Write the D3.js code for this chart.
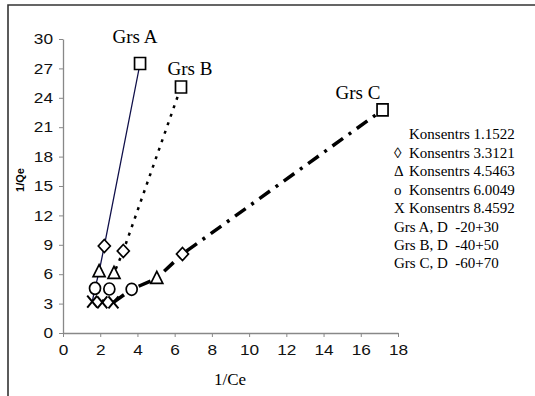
<!DOCTYPE html>
<html><head><meta charset="utf-8">
<script src="https://cdn.jsdelivr.net/npm/d3@7"></script>
<style>body{margin:0;background:#fff}svg{display:block}</style>
</head><body><svg id="c" width="535" height="396"></svg>
<script>
// data: points ordered X, circle, triangle, diamond, square
const markerTypes = ["x","circle","triangle","diamond","square"];
const grsA_x = [1.57, 1.72, 1.94, 2.22, 4.14];
const grsA_y = [3.2, 4.56, 6.26, 8.88, 27.5];
const grsB_x = [2.11, 2.49, 2.74, 3.24, 6.34];
const grsB_y = [3.13, 4.49, 6.09, 8.37, 25.1];
const grsC_x = [2.71, 3.69, 5.04, 6.42, 17.17];
const grsC_y = [3.13, 4.46, 5.58, 8.06, 22.76];
const seriesNames = ["Grs A","Grs B","Grs C"];
const xTicks = [0,2,4,6,8,10,12,14,16,18];
const yTicks = [0,3,6,9,12,15,18,21,24,27,30];
const legendSymbols = ["","\u25CA","\u0394","o","X"];
const legendLabels = ["Konsentrs 1.1522","Konsentrs 3.3121","Konsentrs 4.5463","Konsentrs 6.0049","Konsentrs 8.4592"];
const legendNotes = ["Grs A, D  -20+30","Grs B, D  -40+50","Grs C, D  -60+70"];

const svg = d3.select("#c");
const x = d3.scaleLinear().domain([0,18]).range([63,398]);
const y = d3.scaleLinear().domain([0,30]).range([333,39]);

// frame
svg.append("path").attr("d","M8,396V5H535").attr("fill","none").attr("stroke","#333").attr("stroke-width",1.6);

// axes
const axisColor = "#888";
const gx = svg.append("g").attr("transform","translate(0,333)")
  .call(d3.axisBottom(x).tickValues(xTicks).tickSize(4).tickPadding(8).tickSizeOuter(0));
const gy = svg.append("g").attr("transform","translate(63,0)")
  .call(d3.axisLeft(y).tickValues(yTicks).tickSize(4).tickPadding(6).tickSizeOuter(0));
[gx,gy].forEach(g=>{
  g.select(".domain").attr("stroke",axisColor).attr("stroke-width",1.3);
  g.selectAll(".tick line").attr("stroke",axisColor);
  g.selectAll("text").attr("font-family","Liberation Sans, Arial, sans-serif").attr("font-size",14.5).attr("fill","#111")
    .attr("textLength",function(){return this.textContent.length*9.6;}).attr("lengthAdjust","spacingAndGlyphs");
});

svg.append("text").attr("x",230).attr("y",385).attr("text-anchor","middle")
  .attr("font-family","Liberation Serif, Times New Roman, serif").attr("font-size",17).text("1/Ce");
svg.append("text").attr("transform","translate(24,180) rotate(-90)").attr("text-anchor","middle")
  .attr("font-family","Liberation Sans, Arial, sans-serif").attr("font-size",11).attr("font-weight","bold").text("1/Qe");

const series = [
  {name:seriesNames[0], xs:grsA_x, ys:grsA_y, stroke:"#10104a", sw:1.3, dash:null},
  {name:seriesNames[1], xs:grsB_x, ys:grsB_y, stroke:"#000", sw:2.5, dash:"3,6"},
  {name:seriesNames[2], xs:grsC_x, ys:grsC_y, stroke:"#000", sw:3.5, dash:"13,7,3,7"}
];
const line = d3.line().x(d=>x(d[0])).y(d=>y(d[1]));
series.forEach(s=>{
  const pts = s.xs.map((v,i)=>[v,s.ys[i]]);
  svg.append("path").attr("d",line(pts)).attr("fill","none").attr("stroke",s.stroke)
    .attr("stroke-width",s.sw).attr("stroke-dasharray",s.dash);
});
function markerPath(t){
  switch(t){
    case "square": return "M-5.5,-6H5.5V6H-5.5Z";
    case "diamond": return "M0,-6.5L6,0L0,6.5L-6,0Z";
    case "triangle": return "M0,-7L6,5H-6Z";
    case "circle": return "M0,-6A5.5,6 0 1,0 0,6A5.5,6 0 1,0 0,-6Z";
    case "x": return "M-5,-6L5,6M-5,6L5,-6";
  }
}
series.forEach(s=>{
  s.xs.forEach((v,i)=>{
    const t = markerTypes[i];
    svg.append("path").attr("d",markerPath(t))
      .attr("transform",`translate(${x(v)},${y(s.ys[i])})`)
      .attr("fill",t==="x"?"none":"#fff").attr("stroke","#000").attr("stroke-width",t==="x"?2:1.7);
  });
});
// series labels
const labelPos = [[135,43],[190,75],[358,99]];
series.forEach((s,i)=>{
  svg.append("text").attr("x",labelPos[i][0]).attr("y",labelPos[i][1]).attr("text-anchor","middle")
    .attr("font-family","Liberation Serif, Times New Roman, serif").attr("font-size",19).text(s.name);
});
// legend text
const lf = "Liberation Serif, Times New Roman, serif";
legendLabels.forEach((t,i)=>{
  const yy = 139+18.6*i;
  if(legendSymbols[i]) svg.append("text").attr("x",394).attr("y",yy).attr("font-family",lf).attr("font-size",15).text(legendSymbols[i]);
  svg.append("text").attr("x",409).attr("y",yy).attr("font-family",lf).attr("font-size",15).text(t);
});
legendNotes.forEach((t,i)=>{
  svg.append("text").attr("x",394).attr("y",232+18*i).style("white-space","pre")
    .attr("font-family",lf).attr("font-size",15).text(t);
});
</script></body></html>
